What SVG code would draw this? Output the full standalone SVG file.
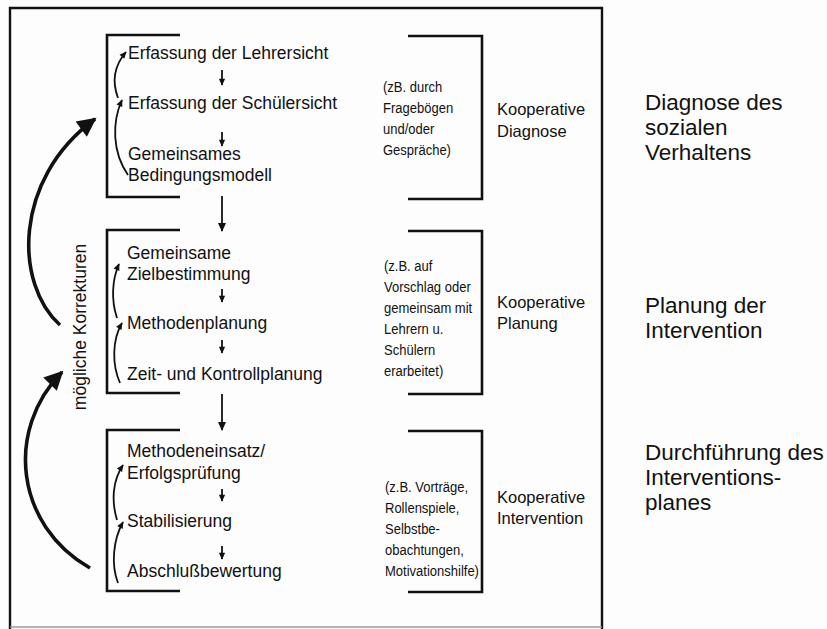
<svg xmlns="http://www.w3.org/2000/svg" width="827" height="629" viewBox="0 0 827 629">
<defs>
<style>
.t{font-family:"Liberation Sans",Arial,Helvetica,sans-serif;font-size:17.5px;fill:#111}
.m{font-family:"Liberation Sans",Arial,Helvetica,sans-serif;font-size:15.5px;fill:#111}
.k{font-family:"Liberation Sans",Arial,Helvetica,sans-serif;font-size:16.5px;fill:#111}
.b{font-family:"Liberation Sans",Arial,Helvetica,sans-serif;font-size:22.5px;fill:#111}
.br{fill:none;stroke:#111;stroke-width:2.6}
.fr{fill:none;stroke:#111;stroke-width:2.4}
.ln{fill:none;stroke:#111;stroke-width:1.8}
.big{fill:none;stroke:#111;stroke-width:3.6}
</style>
<marker id="ah" markerUnits="userSpaceOnUse" markerWidth="9" markerHeight="9" viewBox="0 0 10 10" refX="9" refY="5" orient="auto">
<path d="M0,0.5 L10,5 L0,9.5 z" fill="#111"/>
</marker>
<marker id="ahs" markerUnits="userSpaceOnUse" markerWidth="8" markerHeight="7" viewBox="0 0 10 10" refX="9" refY="5" orient="auto">
<path d="M0,0.5 L10,5 L0,9.5 z" fill="#111"/>
</marker>
<marker id="ahb" markerUnits="userSpaceOnUse" markerWidth="23" markerHeight="19" viewBox="0 0 10 10" refX="9" refY="5" orient="auto">
<path d="M0,0 L10,5 L0,10 z" fill="#111"/>
</marker>
</defs>
<rect width="827" height="629" fill="#fdfdfd"/>

<g id="frame">
<path class="fr" d="M10,629 L10,8 L602,8 L602,629"/>
<line x1="10" y1="627" x2="602" y2="627" stroke="#999" stroke-width="1.5"/>
</g>

<g id="node-diagnose">
<path class="br" d="M180,35 L107,35 L107,197 L180,197"/>
<path class="br" d="M408,36 L482,36 L482,199 L408,199"/>
<text class="t" x="128" y="59">Erfassung der Lehrersicht</text>
<text class="t" x="128" y="109">Erfassung der Schülersicht</text>
<text class="t" x="128" y="160">Gemeinsames</text>
<text class="t" x="128" y="181">Bedingungsmodell</text>
<g transform="translate(383,0) scale(0.84,1) translate(-383,0)">
<text class="m" x="383" y="92">(zB. durch</text>
<text class="m" x="383" y="113">Fragebögen</text>
<text class="m" x="383" y="134">und/oder</text>
<text class="m" x="383" y="155">Gespräche)</text>
</g>
<text class="k" x="497" y="115">Kooperative</text>
<text class="k" x="497" y="137">Diagnose</text>
</g>

<g id="node-planung">
<path class="br" d="M180,230 L107,230 L107,393 L180,393"/>
<path class="br" d="M408,231 L482,231 L482,394 L408,394"/>
<text class="t" x="127" y="259">Gemeinsame</text>
<text class="t" x="127" y="280">Zielbestimmung</text>
<text class="t" x="127" y="329">Methodenplanung</text>
<text class="t" x="127" y="380">Zeit- und Kontrollplanung</text>
<g transform="translate(384,0) scale(0.84,1) translate(-384,0)">
<text class="m" x="384" y="271">(z.B. auf</text>
<text class="m" x="384" y="292">Vorschlag oder</text>
<text class="m" x="384" y="313">gemeinsam mit</text>
<text class="m" x="384" y="334">Lehrern u.</text>
<text class="m" x="384" y="355">Schülern</text>
<text class="m" x="384" y="376">erarbeitet)</text>
</g>
<text class="k" x="497" y="308">Kooperative</text>
<text class="k" x="497" y="329">Planung</text>
</g>

<g id="node-intervention">
<path class="br" d="M180,430 L107,430 L107,591 L180,591"/>
<path class="br" d="M408,431 L482,431 L482,592 L408,592"/>
<text class="t" x="127" y="457">Methodeneinsatz/</text>
<text class="t" x="127" y="479">Erfolgsprüfung</text>
<text class="t" x="127" y="527">Stabilisierung</text>
<text class="t" x="127" y="577">Abschlußbewertung</text>
<g transform="translate(385,0) scale(0.84,1) translate(-385,0)">
<text class="m" x="385" y="492">(z.B. Vorträge,</text>
<text class="m" x="385" y="513">Rollenspiele,</text>
<text class="m" x="385" y="534">Selbstbe-</text>
<text class="m" x="385" y="555">obachtungen,</text>
<text class="m" x="385" y="576">Motivationshilfe)</text>
</g>
<text class="k" x="497" y="503">Kooperative</text>
<text class="k" x="497" y="524">Intervention</text>
</g>

<g id="label-phases">
<text class="b" x="645" y="110">Diagnose des</text>
<text class="b" x="645" y="135">sozialen</text>
<text class="b" x="645" y="160">Verhaltens</text>
<text class="b" x="645" y="313">Planung der</text>
<text class="b" x="645" y="338">Intervention</text>
<text class="b" x="645" y="460">Durchführung des</text>
<text class="b" x="645" y="485">Interventions-</text>
<text class="b" x="645" y="510">planes</text>
</g>

<g id="label-korrekturen">
<text class="t" transform="translate(86,327) rotate(-90)" text-anchor="middle">mögliche Korrekturen</text>
</g>

<g id="connectors">
<line class="ln" x1="222" y1="196" x2="222" y2="231" marker-end="url(#ah)"/>
<line class="ln" x1="222" y1="394" x2="222" y2="430" marker-end="url(#ah)"/>
<line class="ln" x1="222" y1="70" x2="222" y2="85" marker-end="url(#ahs)"/>
<line class="ln" x1="222" y1="132" x2="222" y2="146" marker-end="url(#ahs)"/>
<line class="ln" x1="222" y1="289" x2="222" y2="302" marker-end="url(#ahs)"/>
<line class="ln" x1="222" y1="340" x2="222" y2="353" marker-end="url(#ahs)"/>
<line class="ln" x1="222" y1="489" x2="222" y2="501" marker-end="url(#ahs)"/>
<line class="ln" x1="222" y1="546" x2="222" y2="559" marker-end="url(#ahs)"/>
<path class="ln" d="M118,98 C112,82 114,66 126,52" marker-end="url(#ahs)"/>
<path class="ln" d="M128,175 C112,152 112,122 122,100" marker-end="url(#ahs)"/>
<path class="ln" d="M117,318 C111,300 112,280 119,264" marker-end="url(#ahs)"/>
<path class="ln" d="M120,383 C112,365 112,340 122,323" marker-end="url(#ahs)"/>
<path class="ln" d="M117,520 C111,500 113,480 123,465" marker-end="url(#ahs)"/>
<path class="ln" d="M118,583 C111,565 113,540 123,522" marker-end="url(#ahs)"/>
<path class="big" d="M60,325 C15,285 12,180 95,119" marker-end="url(#ahb)"/>
<path class="big" d="M90,568 C15,525 5,430 62,372" marker-end="url(#ahb)"/>
</g>
</svg>
